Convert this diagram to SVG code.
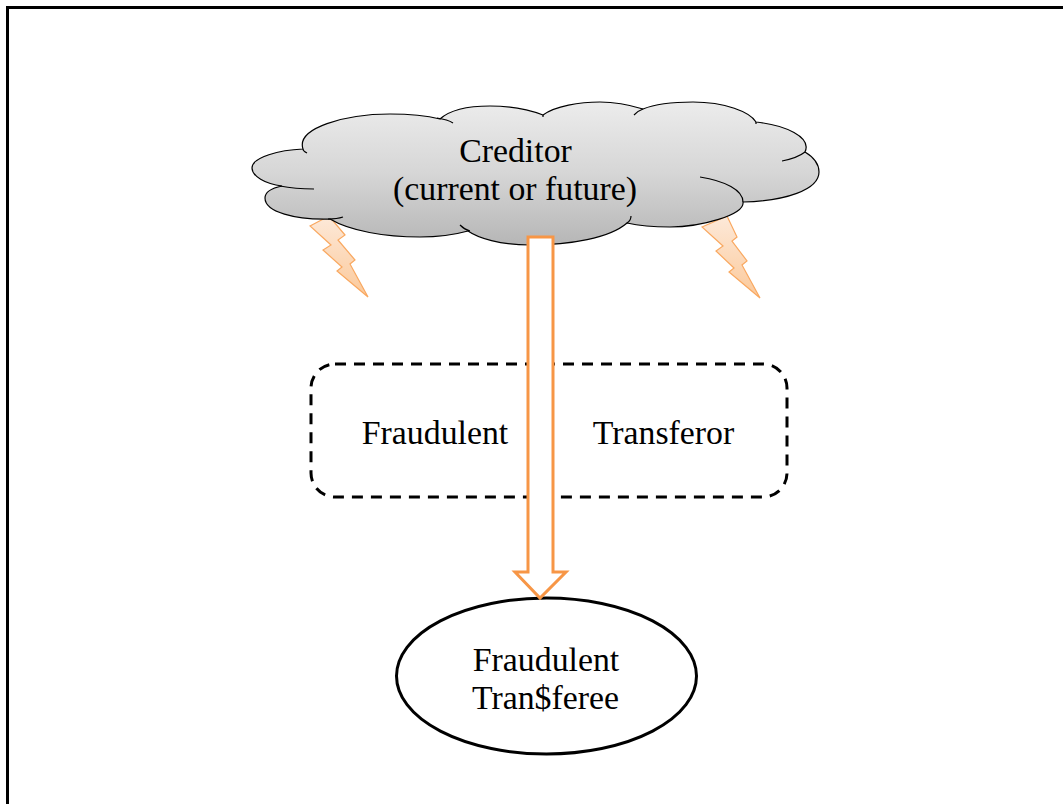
<svg xmlns="http://www.w3.org/2000/svg" width="1063" height="804" viewBox="0 0 1063 804">
<style>
text{font-family:"Liberation Serif","Times New Roman",serif;font-size:33.8px;fill:#000;text-anchor:middle}
.arc{fill:none;stroke:#000;stroke-width:1.2}
.bolt{fill:url(#bg);stroke:#f9a860;stroke-width:1.2}
</style>
<defs>
<linearGradient id="cg" gradientUnits="userSpaceOnUse" x1="0" y1="102" x2="0" y2="245"><stop offset="0" stop-color="#ececec"/><stop offset="0.5" stop-color="#d6d6d6"/><stop offset="1" stop-color="#b6b6b6"/></linearGradient>
<linearGradient id="bg" x1="0" y1="0" x2="0" y2="1"><stop offset="0" stop-color="#fde9d9"/><stop offset="1" stop-color="#fbc99a"/></linearGradient>
</defs>
<rect width="1063" height="804" fill="#fff"/>
<path id="border" d="M7.5 804V7.5H1063" fill="none" stroke="#000" stroke-width="3"/>
<g id="bolt-left"><path class="bolt" d="M310 226L329 216L345 235L338 240L355 260L350 264L368 297L337 271L342 267L323 250L331 245Z"/></g>
<g id="bolt-right"><path class="bolt" d="M702 227L727 216L737 237L732 241L747 261L742 265L760 298L729 272L734 268L716 251L723 246Z"/></g>
<g id="creditor">
<path fill="url(#cg)" stroke="#000" stroke-width="1.2" d="M303 149C296 128 345 114 390 114C410 114 428 116 440 119C452 108 475 106 490 106C510 106 530 110 543 115C555 106 580 102 600 102C615 102 630 105 643 109C655 104 675 102 693 102C725 102 750 112 756 122C785 125 812 137 805 152C815 158 819 165 819 172C819 190 785 201 743 202C745 215 700 227 670 227C655 227 640 226 627 223C610 238 570 245 530 245C500 245 478 238 468 231C450 236 435 237 420 237C385 237 350 231 330 219C295 220 265 212 265 198C265 192 272 188 282 186C265 184 252 176 252 168C252 157 280 150 303 149Z"/>
<path class="arc" d="M303 149C303 151 305 152 307 153M314 189C300 189 290 188 280 186M328 219C335 219 340 218 343 217M437 118C444 119 450 121 453 123M543 115L543 117M643 109C640 110 637 112 634 115M756 122L756 124M805 152C800 156 792 159 782 161M700 177C725 181 743 190 743 202M627 223C630 221 631 218 631 216M460 225C463 228 466 230 470 231"/>
<text x="515.5" y="162">Creditor</text>
<text x="515" y="200">(current or future)</text>
</g>
<g id="transferor">
<rect x="311" y="364" width="476" height="133" rx="24" fill="#fff" stroke="#000" stroke-width="3" stroke-dasharray="11 8"/>
<text x="435" y="444">Fraudulent</text>
<text x="663.5" y="444">Transferor</text>
</g>
<g id="transferee">
<ellipse cx="546.5" cy="676" rx="150" ry="78" fill="#fff" stroke="#000" stroke-width="3"/>
<text x="546" y="671">Fraudulent</text>
<text x="545.5" y="709">Tran$feree</text>
</g>
<g id="connectors">
<path d="M528 237H553V572H566L540 598L515 572H528Z" fill="#fff" stroke="#f79646" stroke-width="3"/>
</g>
</svg>
